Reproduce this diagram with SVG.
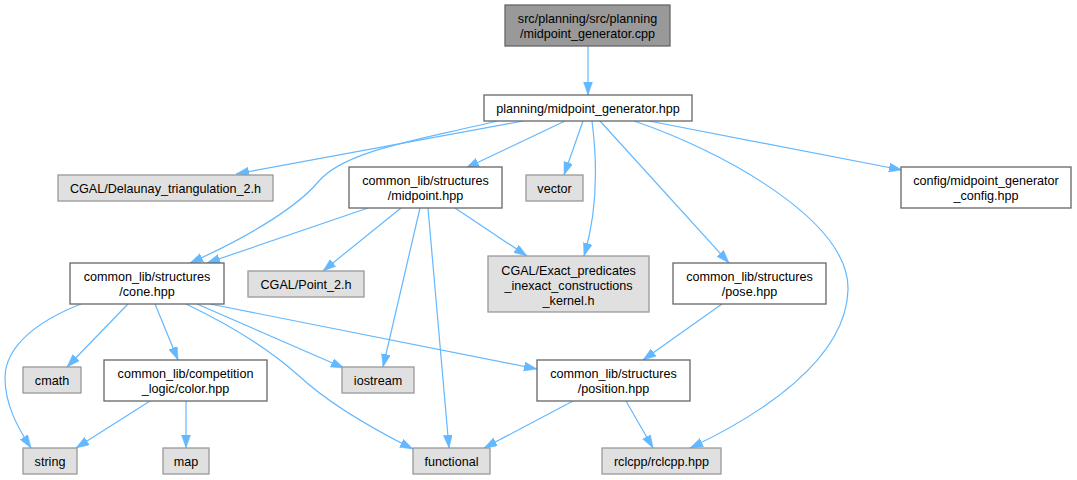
<svg xmlns="http://www.w3.org/2000/svg" width="1077" height="480" viewBox="0 0 1077 480">
<style>
text{font-family:"Liberation Sans",Arial,sans-serif;font-size:12.6px;fill:#000;text-anchor:middle}
.w{fill:#fff;stroke:#666;stroke-width:1.3}
.g{fill:#e0e0e0;stroke:#999;stroke-width:1.3}
.t{fill:#999;stroke:#666;stroke-width:1.3}
.e path{fill:none;stroke:#63b8ff;stroke-width:1.2;marker-end:url(#a)}
</style>
<defs>
<marker id="a" markerUnits="userSpaceOnUse" markerWidth="14" markerHeight="10" refX="13" refY="4.5" orient="auto">
<path d="M0,0 L13,4.5 L0,9 z" fill="#63b8ff" stroke="#63b8ff" stroke-width="0.5"/>
</marker>
</defs>
<rect width="1077" height="480" fill="#fff"/>
<g class="e" id="edges">
<path d="M588,46 L588,95"/>
<path d="M523,121 L236,174"/>
<path d="M497,121 C420,140 345,150 318,182 C300,204 255,234 190,263"/>
<path d="M565,121 L466,168"/>
<path d="M583,121 L564,175"/>
<path d="M592,121 C597,160 598,210 584,256"/>
<path d="M600,121 L729,263"/>
<path d="M634,121 C720,150 850,220 848,290 C846,360 760,415 690,448"/>
<path d="M649,121 L902,170"/>
<path d="M368,208 L207,263"/>
<path d="M401,208 L323,271"/>
<path d="M420,208 L383,367"/>
<path d="M428,208 L449,448"/>
<path d="M455,208 L527,256"/>
<path d="M81,304 C40,320 5,345 5,378 C5,405 18,428 31,448"/>
<path d="M128,304 L67,367"/>
<path d="M155,304 L178,360"/>
<path d="M186,304 C230,325 270,350 298,375 C330,405 375,430 413,449"/>
<path d="M197,304 L344,368"/>
<path d="M210,304 L537,369"/>
<path d="M150,401 L76,448"/>
<path d="M186,401 L186,448"/>
<path d="M722,304 L643,360"/>
<path d="M573,401 L484,448"/>
<path d="M626,401 L653,448"/>
</g>
<g id="n_main"><rect class="t" x="505" y="5" width="165" height="41"/><text x="587.5" y="23">src/planning/src/planning</text><text x="587.5" y="38">/midpoint_generator.cpp</text></g>
<g id="n_planning"><rect class="w" x="484" y="95" width="208" height="26"/><text x="588" y="112.5">planning/midpoint_generator.hpp</text></g>
<g id="n_delaunay"><rect class="g" x="58" y="175" width="215" height="26"/><text x="165.5" y="192.5">CGAL/Delaunay_triangulation_2.h</text></g>
<g id="n_midpoint"><rect class="w" x="349" y="167" width="153" height="41"/><text x="425.5" y="185">common_lib/structures</text><text x="425.5" y="200">/midpoint.hpp</text></g>
<g id="n_vector"><rect class="g" x="526" y="175" width="57" height="26"/><text x="554.5" y="192.5">vector</text></g>
<g id="n_config"><rect class="w" x="901" y="167" width="170" height="41"/><text x="986" y="185">config/midpoint_generator</text><text x="986" y="200">_config.hpp</text></g>
<g id="n_cone"><rect class="w" x="70" y="263" width="154" height="41"/><text x="147" y="281">common_lib/structures</text><text x="147" y="296">/cone.hpp</text></g>
<g id="n_point2"><rect class="g" x="248" y="271" width="116" height="26"/><text x="306" y="288.5">CGAL/Point_2.h</text></g>
<g id="n_exact"><rect class="g" x="488" y="256" width="161" height="56"/><text x="568.5" y="274.5">CGAL/Exact_predicates</text><text x="568.5" y="289.5">_inexact_constructions</text><text x="568.5" y="304.5">_kernel.h</text></g>
<g id="n_pose"><rect class="w" x="673" y="263" width="153" height="41"/><text x="749.5" y="281">common_lib/structures</text><text x="749.5" y="296">/pose.hpp</text></g>
<g id="n_cmath"><rect class="g" x="23" y="367" width="58" height="26"/><text x="52" y="384.5">cmath</text></g>
<g id="n_color"><rect class="w" x="104" y="360" width="163" height="41"/><text x="185.5" y="378">common_lib/competition</text><text x="185.5" y="393">_logic/color.hpp</text></g>
<g id="n_iostream"><rect class="g" x="342" y="367" width="72" height="26"/><text x="378" y="384.5">iostream</text></g>
<g id="n_position"><rect class="w" x="537" y="360" width="153" height="41"/><text x="613.5" y="378">common_lib/structures</text><text x="613.5" y="393">/position.hpp</text></g>
<g id="n_string"><rect class="g" x="23" y="448" width="54" height="26"/><text x="50" y="465.5">string</text></g>
<g id="n_map"><rect class="g" x="163" y="448" width="46" height="26"/><text x="186" y="465.5">map</text></g>
<g id="n_functional"><rect class="g" x="413" y="448" width="77" height="26"/><text x="451.5" y="465.5">functional</text></g>
<g id="n_rclcpp"><rect class="g" x="602" y="448" width="119" height="26"/><text x="661.5" y="465.5">rclcpp/rclcpp.hpp</text></g>
</svg>
